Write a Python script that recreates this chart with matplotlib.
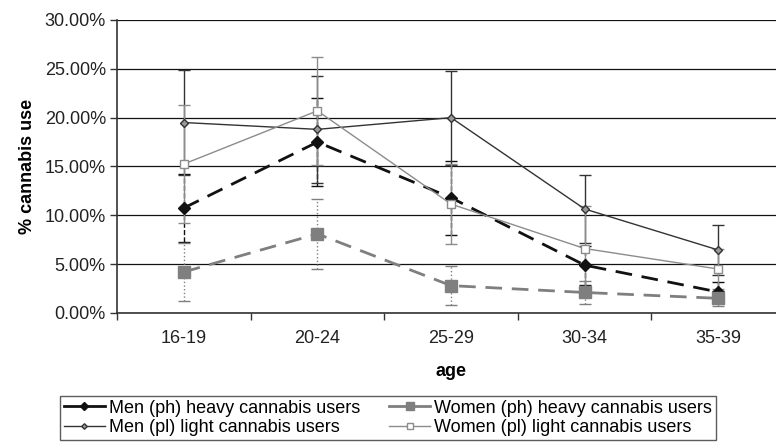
import numpy as np
import matplotlib.pyplot as plt

plt.rcParams['font.family'] = ['Liberation Sans', 'DejaVu Sans']

ages = ['16-19', '20-24', '25-29', '30-34', '35-39']

men_heavy = [10.75, 17.5, 11.8, 4.9, 2.15]
men_heavy_err = [3.5, 4.5, 3.8, 2.0, 1.0]
women_heavy = [4.2, 8.1, 2.8, 2.1, 1.5]
women_heavy_err = [3.0, 3.6, 2.0, 1.2, 0.8]
men_light = [19.5, 18.8, 20.0, 10.65, 6.45]
men_light_err = [5.4, 5.5, 4.8, 3.5, 2.6]
women_light = [15.25, 20.7, 11.15, 6.6, 4.5]
women_light_err = [6.0, 5.5, 4.1, 4.4, 2.0]

x = np.arange(len(ages))

fig = plt.figure(figsize=(7.76, 4.43), dpi=100)
ax = fig.add_axes([0.1508, 0.2935, 0.8608, 0.6614])

series = [
    # label, values, errors, color, line style, width, marker, size, face, bar style
    ('Men (ph) heavy cannabis users', men_heavy, men_heavy_err, '#111111', (0, (6, 3.5)), 2.0, 'D', 6, '#111111', '--'),
    ('Women (ph) heavy cannabis users', women_heavy, women_heavy_err, '#7f7f7f', (0, (6, 3.5)), 2.0, 's', 9, '#7f7f7f', ':'),
    ('Men (pl) light cannabis users', men_light, men_light_err, '#333333', '-', 1.0, 'D', 4, '#999999', '-'),
    ('Women (pl) light cannabis users', women_light, women_light_err, '#8c8c8c', '-', 1.0, 's', 6, 'white', '-'),
]

handles = {}
for label, vals, errs, col, ls, lw, mk, ms, face, bar_ls in series:
    eb = ax.errorbar(x, vals, yerr=errs, color=col, ecolor=col, elinewidth=1.0,
                     capsize=4, capthick=1.0, linestyle=ls, linewidth=lw,
                     marker=mk, markersize=ms, markerfacecolor=face,
                     markeredgecolor=col, label=label, zorder=3)
    eb[2][0].set_linestyle(bar_ls)
    handles[label] = eb[0]

ax.set_xlim(-0.5, 4.5)
ax.set_ylim(0, 30)
ax.set_yticks(np.arange(0, 31, 5))
ax.set_yticklabels([f'{v:.2f}%' for v in range(0, 31, 5)])
ax.set_xticks(x)
ax.set_xticklabels(ages)
ax.set_xticks(np.arange(-0.5, 4.6, 1), minor=True)
ax.tick_params(axis='x', which='major', length=0, pad=12)
ax.tick_params(axis='x', which='minor', length=5, width=1, color='#333333')
ax.tick_params(axis='y', length=5, width=1, color='#333333', pad=3)
ax.tick_params(labelsize=13, labelcolor='#222222')

ax.yaxis.grid(True, color='#111111', linewidth=0.9)
ax.set_axisbelow(True)
for s in ['top', 'right']:
    ax.spines[s].set_visible(False)
for s in ['left', 'bottom']:
    ax.spines[s].set_color('#333333')
    ax.spines[s].set_linewidth(1.2)

ax.set_ylabel('% cannabis use', fontsize=13, fontweight='bold', labelpad=6)
ax.set_xlabel('age', fontsize=13, fontweight='bold', labelpad=12)

# legend rows: heavy users on top, light users below
order = [series[0][0], series[2][0], series[1][0], series[3][0]]
leg = fig.legend(handles=[handles[k] for k in order], labels=order, ncol=2,
                 loc='upper left', bbox_to_anchor=(60 / 776, 1 - 396 / 443),
                 borderaxespad=0, frameon=True, fancybox=False,
                 edgecolor='#333333', fontsize=13, handlelength=2.3,
                 handletextpad=0.2, columnspacing=1.6, borderpad=0.2,
                 labelspacing=0.15, markerscale=0.7)
leg.get_frame().set_linewidth(1.0)
for h in leg.legend_handles:
    h.set_linestyle('-')

fig.savefig('out.png', dpi=100)
